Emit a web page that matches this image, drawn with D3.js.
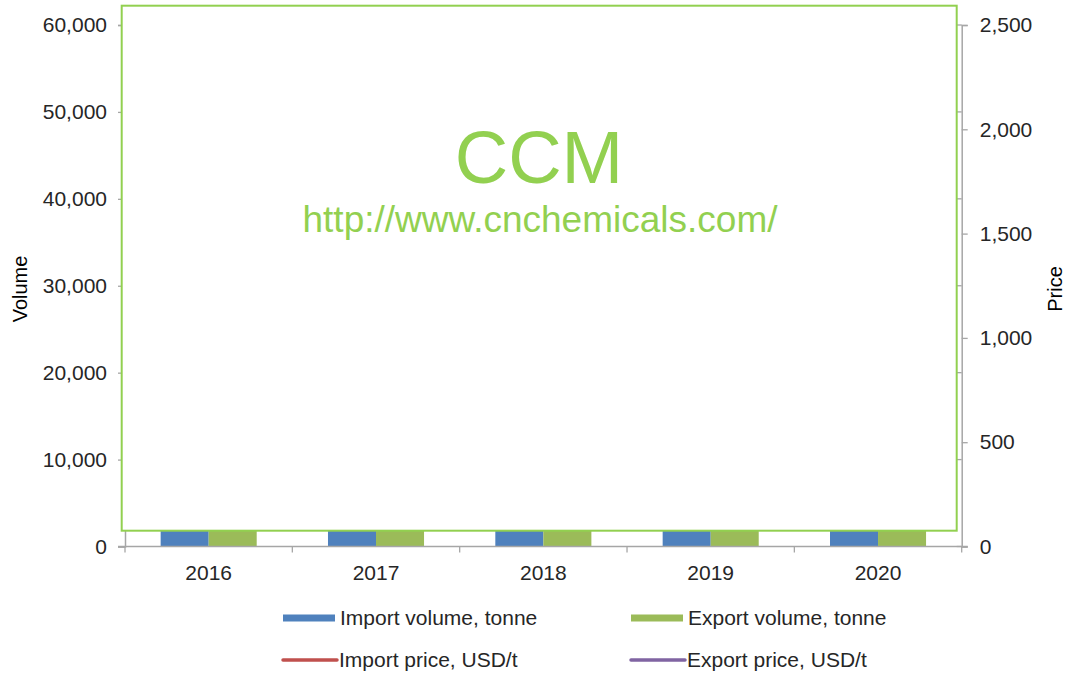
<!DOCTYPE html>
<html>
<head>
<meta charset="utf-8">
<script src="https://cdn.jsdelivr.net/npm/d3@7"></script>
<style>
  body { margin: 0; background: #fff; }
  svg { display: block; font-family: "Liberation Sans", Arial, sans-serif; }
</style>
</head>
<body>
<div id="chart"></div>
<script>
// categories and series (bars/lines sit behind the watermark panel in the source)
const years = ["2016", "2017", "2018", "2019", "2020"];
const importVolume = [9000, 9500, 8800, 10200, 9700];
const exportVolume = [12000, 11500, 13200, 12600, 14100];
const importPrice = [1500, 1600, 1700, 1650, 1580];
const exportPrice = [1300, 1350, 1450, 1420, 1380];

const volumeTicks = [0, 10000, 20000, 30000, 40000, 50000, 60000];
const priceTicks = [0, 500, 1000, 1500, 2000, 2500];

const legendItems = [
  { label: "Import volume, tonne", color: "#4F81BD", kind: "bar" },
  { label: "Export volume, tonne", color: "#9BBB59", kind: "bar" },
  { label: "Import price, USD/t", color: "#C0504D", kind: "line" },
  { label: "Export price, USD/t", color: "#8064A2", kind: "line" }
];

const W = 1068, H = 677;
const plotL = 125, plotR = 961.7, plotT = 25, plotB = 546.5;
const axisColor = "#a6a6a6", textColor = "#262626";
const ccmGreen = "#92D050";

const svg = d3.select("#chart").append("svg")
  .attr("width", W).attr("height", H);

const x = d3.scaleBand().domain(years).range([plotL, plotR])
  .paddingInner(0.426).paddingOuter(0.213);
const xs = d3.scaleBand().domain(["imp", "exp"]).range([0, x.bandwidth()]);
const yVol = d3.scaleLinear().domain([0, 60000]).range([plotB, plotT]);
const yPrice = d3.scaleLinear().domain([0, 2500]).range([plotB, plotT]);
const fmt = d3.format(",");

// bars
const groups = svg.append("g").selectAll("g").data(years).enter().append("g")
  .attr("transform", d => `translate(${x(d)},0)`);
groups.append("rect")
  .attr("x", xs("imp")).attr("width", xs.bandwidth())
  .attr("y", (d, i) => yVol(importVolume[i]))
  .attr("height", (d, i) => plotB - yVol(importVolume[i]))
  .attr("fill", "#4F81BD");
groups.append("rect")
  .attr("x", xs("exp")).attr("width", xs.bandwidth())
  .attr("y", (d, i) => yVol(exportVolume[i]))
  .attr("height", (d, i) => plotB - yVol(exportVolume[i]))
  .attr("fill", "#9BBB59");

// price lines
const line = d3.line().x(d => x(d.year) + x.bandwidth() / 2).y(d => yPrice(d.v));
[[importPrice, "#C0504D"], [exportPrice, "#8064A2"]].forEach(([vals, c]) => {
  svg.append("path")
    .datum(years.map((yr, i) => ({ year: yr, v: vals[i] })))
    .attr("d", line).attr("fill", "none").attr("stroke", c).attr("stroke-width", 3);
});

// left axis
const gl = svg.append("g").attr("transform", `translate(${plotL},0)`)
  .call(d3.axisLeft(yVol).tickValues(volumeTicks).tickFormat(fmt).tickSize(7).tickPadding(11));
// right axis
const gr = svg.append("g").attr("transform", `translate(${plotR},0)`)
  .call(d3.axisRight(yPrice).tickValues(priceTicks).tickFormat(fmt).tickSize(6).tickPadding(12));
// small inner ticks on the right axis at volume positions
svg.append("g").selectAll("line").data(volumeTicks).enter().append("line")
  .attr("x1", plotR - 5).attr("x2", plotR)
  .attr("y1", d => yVol(d)).attr("y2", d => yVol(d))
  .attr("stroke", axisColor).attr("stroke-width", 1.3);
// bottom axis: ticks at category boundaries
const gb = svg.append("g").attr("transform", `translate(0,${plotB})`);
gb.append("line").attr("x1", plotL - 7).attr("x2", plotR + 6)
  .attr("stroke", axisColor).attr("stroke-width", 1.5);
gb.selectAll(".bt").data(years.concat(["end"])).enter().append("line")
  .attr("x1", (d, i) => plotL + i * x.step()).attr("x2", (d, i) => plotL + i * x.step())
  .attr("y1", 0).attr("y2", 6)
  .attr("stroke", axisColor).attr("stroke-width", 1.3);
gb.selectAll("text").data(years).enter().append("text")
  .attr("x", d => x(d) + x.bandwidth() / 2).attr("y", 33)
  .attr("text-anchor", "middle").attr("font-size", 21).attr("fill", textColor)
  .text(d => d);

[gl, gr].forEach(g => {
  g.select(".domain").attr("stroke", axisColor).attr("stroke-width", 1.5);
  g.selectAll(".tick line").attr("stroke", axisColor).attr("stroke-width", 1.3);
  g.selectAll(".tick text").attr("font-size", 21).attr("fill", textColor)
    .attr("font-family", "Liberation Sans, Arial, sans-serif");
});

// axis titles
svg.append("text").attr("transform", "translate(27,289) rotate(-90)")
  .attr("text-anchor", "middle").attr("font-size", 20).attr("fill", "#000").text("Volume");
svg.append("text").attr("transform", "translate(1062,289) rotate(-90)")
  .attr("text-anchor", "middle").attr("font-size", 20).attr("fill", "#000").text("Price");

// watermark panel covering the plot area
svg.append("rect").attr("x", 121.7).attr("y", 5.7).attr("width", 835).attr("height", 525)
  .attr("fill", "#fff").attr("stroke", ccmGreen).attr("stroke-width", 2);
svg.append("text").attr("x", 539).attr("y", 183).attr("text-anchor", "middle")
  .attr("font-size", 74).attr("fill", ccmGreen).text("CCM");
svg.append("text").attr("x", 540).attr("y", 232).attr("text-anchor", "middle")
  .attr("font-size", 37).attr("fill", ccmGreen).text("http://www.cnchemicals.com/");

// legend
const legendPos = [[283, 618], [631, 618], [283, 660], [631, 660]];
const lg = svg.append("g").selectAll("g").data(legendItems).enter().append("g")
  .attr("transform", (d, i) => `translate(${legendPos[i][0]},${legendPos[i][1]})`);
lg.filter(d => d.kind === "bar").append("rect")
  .attr("x", 0).attr("y", -3.5).attr("width", 52).attr("height", 7).attr("fill", d => d.color);
lg.filter(d => d.kind === "line").append("line")
  .attr("x1", 0).attr("x2", 54).attr("y1", 0).attr("y2", 0)
  .attr("stroke", d => d.color).attr("stroke-width", 3.5).attr("stroke-linecap", "round");
lg.append("text").attr("x", d => d.kind === "bar" ? 57 : 56).attr("y", 7)
  .attr("font-size", 21).attr("fill", textColor).text(d => d.label);
</script>
</body>
</html>
